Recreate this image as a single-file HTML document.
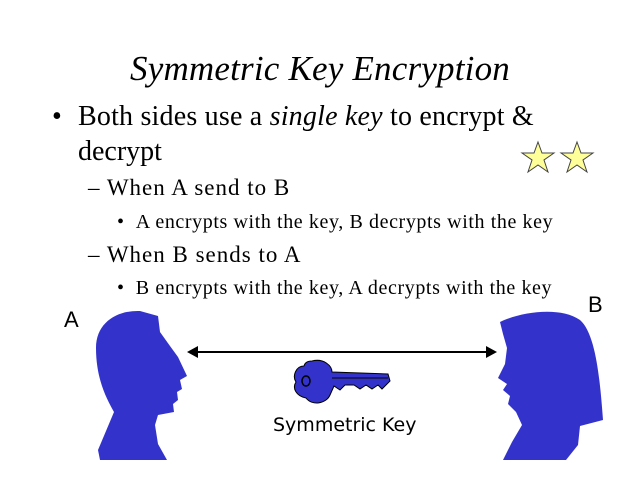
<!DOCTYPE html>
<html><head><style>
body{margin:0;width:640px;height:480px;background:#fff;position:relative;overflow:hidden;font-family:"Liberation Serif",serif;color:#000}
div.t{position:absolute;white-space:nowrap}
</style></head><body>
<div class="t" style="left:0;width:640px;text-align:center;top:49px;font-size:35px;font-style:italic;letter-spacing:0.2px">Symmetric Key Encryption</div>
<div class="t" style="left:52px;top:101px;font-size:28px">•</div>
<div class="t" style="left:78px;top:101px;font-size:28px;letter-spacing:0.2px">Both sides use a <i>single key</i> to encrypt &amp;</div>
<div class="t" style="left:78px;top:136px;font-size:28px">decrypt</div>
<div class="t" style="left:88px;top:175px;font-size:23px;letter-spacing:1px">– When A send to B</div>
<div class="t" style="left:117px;top:211px;font-size:20px;letter-spacing:0.6px">• &nbsp;A encrypts with the key, B decrypts with the key</div>
<div class="t" style="left:88px;top:242px;font-size:23px;letter-spacing:1px">– When B sends to A</div>
<div class="t" style="left:117px;top:277px;font-size:20px;letter-spacing:0.6px">• &nbsp;B encrypts with the key, A decrypts with the key</div>
<div class="t" style="left:64px;top:307px;font-size:22px;font-family:'Liberation Sans',sans-serif">A</div>
<div class="t" style="left:588px;top:292px;font-size:22px;font-family:'Liberation Sans',sans-serif">B</div>
<div class="t" style="left:273px;top:414px;font-size:19px;font-family:'DejaVu Sans',sans-serif">Symmetric Key</div>
<svg width="640" height="480" style="position:absolute;left:0;top:0">
<g fill="#ffff99" stroke="#444" stroke-width="1">
<polygon points="538,142 542,153 554,153 544,160 548,172 538,165 528,172 532,160 522,153 534,153"/>
<polygon points="577,142 581,153 593,153 583,160 587,172 577,165 567,172 571,160 561,153 573,153"/>
</g>
<path fill="#3333cc" d="M96 348 C96 322 118 310 140 311 L158 316 L160 332 L170 346 L178 357 L187 376 L180 380 L182 389 L177 392 L178 400 L173 404 L174 412 L158 415 L155 425 L158 444 L167 460 L100 460 L98 450 L114 412 C106 398 96 378 96 348 Z"/>
<path fill="#3333cc" d="M500 322 C520 312 560 306 580 320 C596 334 600 380 603 420 L580 426 L578 445 L566 460 L503 460 L512 442 L522 425 L516 412 L508 404 L510 396 L503 390 L507 384 L498 378 L505 364 L507 348 L503 334 Z"/>
<line x1="195" y1="352" x2="490" y2="352" stroke="#000" stroke-width="2"/>
<polygon points="187,352 198,346 198,358" fill="#000"/>
<polygon points="497,352 486,346 486,358" fill="#000"/>
<path fill="#3333cc" stroke="#000" stroke-width="1" d="M312 361 C324 358 332 366 332 372 L388 374 L390 381 L386 385 L382 389 L378 385 L372 389 L366 385 L360 389 L354 385 L345 385 L340 390 L334 386 L330 395 C326 404 312 406 306 398 C296 396 292 388 296 382 C292 376 296 366 304 366 C305 362 308 361 312 361 Z"/>
<line x1="332" y1="378" x2="388" y2="378" stroke="#000" stroke-width="1"/>
<ellipse cx="306" cy="381" rx="4" ry="5" fill="none" stroke="#000" stroke-width="1.5"/>
</svg>
</body></html>
